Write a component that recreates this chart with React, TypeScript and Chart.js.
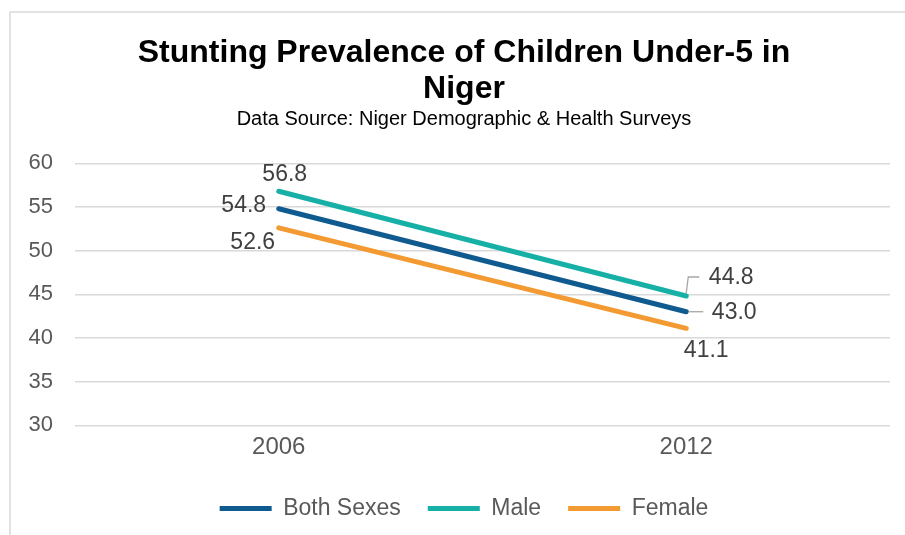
import React, { useEffect, useRef } from "react";
import { Chart, registerables } from "chart.js";

Chart.register(...registerables);

const categories = ["2006", "2012"];
const seriesNames = ["Both Sexes", "Male", "Female"];
const bothSexes = [54.8, 43.0];
const male = [56.8, 44.8];
const female = [52.6, 41.1];
const yMin = 30;
const yMax = 60;
const yStep = 5;
const titleLines = ["Stunting Prevalence of Children Under-5 in", "Niger"];
const subtitleText = "Data Source: Niger Demographic & Health Surveys";

const COLORS = ["#0F5A8E", "#17B0A7", "#F39A32"];
const FONT = "'Liberation Sans', Arial, Helvetica, sans-serif";

// label placement (center offsets from the point) per dataset, per index
const LABEL_POS = [
  [{ dx: -35, dy: -3 }, { dx: 48, dy: 1, leader: "h" }],
  [{ dx: 6, dy: -17 }, { dx: 45, dy: -18, leader: "up" }],
  [{ dx: -26, dy: 15 }, { dx: 20, dy: 22 }],
];

const frameAndLabels = {
  id: "frameAndLabels",
  beforeDraw(chart: any) {
    const ctx = chart.ctx;
    ctx.save();
    ctx.fillStyle = "#ffffff";
    ctx.fillRect(0, 0, chart.width, chart.height);
    ctx.strokeStyle = "#d9d9d9";
    ctx.lineWidth = 1.5;
    ctx.beginPath();
    ctx.moveTo(10, chart.height);
    ctx.lineTo(10, 12);
    ctx.lineTo(chart.width, 12);
    ctx.stroke();
    ctx.restore();
  },
  afterDraw(chart: any) {
    // y-axis tick labels (drawn outside the narrow scale box)
    const ctx = chart.ctx;
    const y = chart.scales.y;
    ctx.save();
    ctx.font = `22px ${FONT}`;
    ctx.fillStyle = "#595959";
    ctx.textAlign = "right";
    ctx.textBaseline = "middle";
    y.ticks.forEach((t: any, i: number) => {
      ctx.fillText(String(t.value), y.right - 22, y.getPixelForTick(i));
    });
    ctx.restore();
  },
  afterDatasetsDraw(chart: any) {
    const ctx = chart.ctx;
    ctx.save();
    ctx.font = `23px ${FONT}`;
    ctx.fillStyle = "#404040";
    ctx.textAlign = "center";
    ctx.textBaseline = "middle";
    chart.data.datasets.forEach((ds: any, di: number) => {
      const meta = chart.getDatasetMeta(di);
      meta.data.forEach((pt: any, i: number) => {
        const pos = LABEL_POS[di][i] as any;
        const v = ds.data[i] as number;
        ctx.fillText(v.toFixed(1), pt.x + pos.dx, pt.y + pos.dy);
        if (pos.leader) {
          ctx.strokeStyle = "#a6a6a6";
          ctx.lineWidth = 1.3;
          ctx.beginPath();
          if (pos.leader === "up") {
            ctx.moveTo(pt.x, pt.y - 3);
            ctx.lineTo(pt.x + 2, pt.y - 19);
            ctx.lineTo(pt.x + 13, pt.y - 19);
          } else {
            ctx.moveTo(pt.x + 3, pt.y);
            ctx.lineTo(pt.x + 17, pt.y);
          }
          ctx.stroke();
        }
      });
    });
    ctx.restore();
  },
};

export default function App() {
  const ref = useRef<HTMLCanvasElement | null>(null);

  useEffect(() => {
    document.body.style.margin = "0";
    if (!ref.current) return;
    const seriesData = [bothSexes, male, female];
    const chart = new Chart(ref.current, {
      type: "line",
      data: {
        labels: categories,
        datasets: seriesNames.map((name, i) => ({
          label: name,
          data: seriesData[i],
          borderColor: COLORS[i],
          backgroundColor: COLORS[i],
          borderWidth: 5,
          borderCapStyle: "round",
          pointRadius: 0,
          tension: 0,
        })),
      },
      options: {
        animation: false,
        responsive: false,
        maintainAspectRatio: false,
        layout: { padding: { left: 38, right: 15, top: 13, bottom: 5 } },
        plugins: {
          title: {
            display: true,
            text: titleLines,
            color: "#000000",
            font: { family: FONT, size: 32, weight: "bold", lineHeight: 1.13 },
            padding: { top: 22, bottom: 0 },
          },
          subtitle: {
            display: true,
            text: subtitleText,
            color: "#000000",
            font: { family: FONT, size: 20, lineHeight: 1.2 },
            padding: { top: 0, bottom: 32 },
          },
          legend: {
            position: "bottom",
            labels: {
              boxWidth: 52,
              boxHeight: 5,
              useBorderRadius: true,
              borderRadius: 2.5,
              padding: 27,
              color: "#595959",
              font: { family: FONT, size: 23 },
              generateLabels: (c: any) =>
                c.data.datasets.map((ds: any, i: number) => ({
                  text: ds.label,
                  fillStyle: COLORS[i],
                  strokeStyle: COLORS[i],
                  lineWidth: 0,
                  hidden: false,
                  datasetIndex: i,
                  fontColor: "#595959",
                })),
            },
          },
          tooltip: { enabled: false },
        },
        scales: {
          x: {
            offset: true,
            grid: { display: false, drawTicks: false },
            border: { display: false },
            ticks: {
              color: "#595959",
              font: { family: FONT, size: 24 },
              padding: 8,
            },
          },
          y: {
            min: yMin,
            max: yMax,
            afterFit: (scale: any) => {
              scale.width = 37;
            },
            grid: { color: "#d9d9d9", lineWidth: 1.4, drawTicks: false },
            border: { display: false },
            ticks: {
              stepSize: yStep,
              display: false,
              font: { family: FONT, size: 22 },
            },
          },
        },
      },
      plugins: [frameAndLabels],
    });
    return () => chart.destroy();
  }, []);

  return (
    <div style={{ width: 905, height: 535 }}>
      <canvas ref={ref} width={905} height={535} style={{ display: "block" }} />
    </div>
  );
}
